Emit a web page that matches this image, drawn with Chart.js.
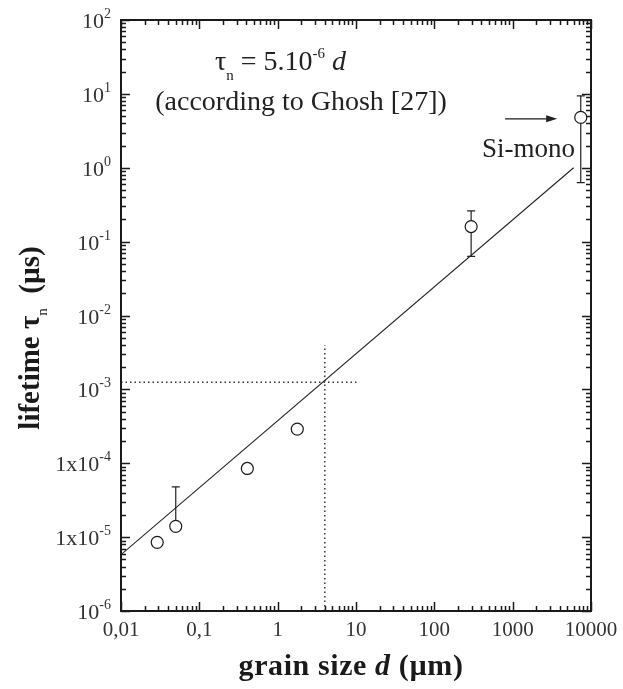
<!DOCTYPE html>
<html>
<head>
<meta charset="utf-8">
<script src="https://cdn.jsdelivr.net/npm/chart.js@4"></script>
<style>
  html, body { margin: 0; padding: 0; background: #fff; }
  #wrap { width: 623px; height: 689px; position: relative; }
</style>
</head>
<body>
<div id="wrap"><canvas id="c"></canvas></div>
<script>
// Measured minority-carrier lifetime versus grain size
const grainSize = [0.029, 0.05, 0.41, 1.78, 295, 7400];
const lifetime  = [8.5e-6, 1.4e-5, 8.5e-5, 2.9e-4, 0.16, 4.8];
const errHigh   = [null, 4.8e-5, null, null, 0.26, 9.4];
const errLow    = [null, null, null, null, 0.063, 0.63];

// Fitted trend line (end points)
const fitX = [0.01, 6000];
const fitY = [5.8e-6, 1.0];

// Dotted read-off guides
const guideHX = [0.01, 11];
const guideHY = [1.25e-3, 1.25e-3];
const guideVX = [4, 4];
const guideVY = [1e-6, 4e-3];

// Axis ticks
const xTickValues = [0.01, 0.1, 1, 10, 100, 1000, 10000];
const xTickLabels = ['0,01', '0,1', '1', '10', '100', '1000', '10000'];
const yTickValues = [1e-6, 1e-5, 1e-4, 1e-3, 1e-2, 1e-1, 1, 10, 100];
const yTickBases  = ['10', '1x10', '1x10', '10', '10', '10', '10', '10', '10'];
const yTickExps   = ['-6', '-5', '-4', '-3', '-2', '-1', '0', '1', '2'];

// "Si-mono" arrow, in data units
const arrowX = [800, 3700];
const arrowY = [4.6, 4.6];

const SERIF = '"Liberation Serif", "DejaVu Serif", serif';

function toXY(xs, ys) { return xs.map((x, i) => ({ x: x, y: ys[i] })); }

// Draws a run of text pieces, each with its own font, spacing and vertical offset
function drawRich(ctx, parts, x, y, align) {
  let total = 0;
  parts.forEach(p => {
    ctx.font = p.font;
    ctx.letterSpacing = (p.ls || 0) + 'px';
    total += ctx.measureText(p.t).width;
  });
  let cx = x;
  if (align === 'center') cx = x - total / 2;
  else if (align === 'right') cx = x - total;
  ctx.textAlign = 'left';
  ctx.textBaseline = 'alphabetic';
  parts.forEach(p => {
    ctx.font = p.font;
    ctx.letterSpacing = (p.ls || 0) + 'px';
    ctx.fillText(p.t, cx, y + (p.dy || 0));
    cx += ctx.measureText(p.t).width;
  });
  ctx.letterSpacing = '0px';
}

const framePlugin = {
  id: 'frame',
  beforeDatasetsDraw(chart) {
    const ctx = chart.ctx;
    const xs = chart.scales.x, ys = chart.scales.y;
    // error bars with caps
    ctx.save();
    ctx.strokeStyle = '#222';
    ctx.lineWidth = 1.2;
    grainSize.forEach((g, i) => {
      const px = xs.getPixelForValue(g);
      const pc = ys.getPixelForValue(lifetime[i]);
      [errHigh[i], errLow[i]].forEach(v => {
        if (v === null) return;
        const py = ys.getPixelForValue(v);
        ctx.beginPath();
        ctx.moveTo(px, pc); ctx.lineTo(px, py);
        ctx.moveTo(px - 4, py); ctx.lineTo(px + 4, py);
        ctx.stroke();
      });
    });
    ctx.restore();
  },
  afterDraw(chart) {
    const ctx = chart.ctx;
    const a = chart.chartArea;
    const xs = chart.scales.x, ys = chart.scales.y;
    ctx.save();
    ctx.fillStyle = '#1a1a1a';
    ctx.strokeStyle = '#1a1a1a';

    // inward ticks on all four sides
    ctx.lineWidth = 1.5;
    ctx.beginPath();
    for (let d = -2; d <= 4; d++) {
      for (let m = 1; m <= 9; m++) {
        const v = m * Math.pow(10, d);
        if (v > 10000 * 1.0001) continue;
        const px = Math.round(xs.getPixelForValue(v)) + 0.5;
        const len = m === 1 ? 9 : 5;
        ctx.moveTo(px, a.bottom); ctx.lineTo(px, a.bottom - len);
        ctx.moveTo(px, a.top); ctx.lineTo(px, a.top + len);
      }
    }
    for (let d = -6; d <= 2; d++) {
      for (let m = 1; m <= 9; m++) {
        const v = m * Math.pow(10, d);
        if (v > 100 * 1.0001) continue;
        const py = Math.round(ys.getPixelForValue(v)) + 0.5;
        const len = m === 1 ? 9 : 5;
        ctx.moveTo(a.left, py); ctx.lineTo(a.left + len, py);
        ctx.moveTo(a.right, py); ctx.lineTo(a.right - len, py);
      }
    }
    ctx.stroke();

    // plot frame
    ctx.lineWidth = 2;
    ctx.strokeRect(a.left, a.top, a.right - a.left, a.bottom - a.top);

    // x tick labels
    ctx.fillStyle = '#333';
    ctx.font = '21px ' + SERIF;
    ctx.textAlign = 'center';
    ctx.textBaseline = 'alphabetic';
    xTickValues.forEach((v, i) => {
      ctx.fillText(xTickLabels[i], xs.getPixelForValue(v), a.bottom + 25);
    });

    // y tick labels with superscript exponents
    yTickValues.forEach((v, i) => {
      const py = ys.getPixelForValue(v);
      drawRich(ctx, [
        { t: yTickBases[i], font: '22px ' + SERIF },
        { t: yTickExps[i], font: '14px ' + SERIF, dy: -10 }
      ], a.left - 10, py + 8, 'right');
    });

    // axis titles
    ctx.fillStyle = '#1a1a1a';
    drawRich(ctx, [
      { t: 'grain size ', font: 'bold 30px ' + SERIF, ls: 0.6 },
      { t: 'd', font: 'italic bold 30px ' + SERIF, ls: 0.6 },
      { t: ' (\u00b5m)', font: 'bold 30px ' + SERIF, ls: 0.6 }
    ], 351, 675, 'center');

    ctx.save();
    ctx.translate(39, 338);
    ctx.rotate(-Math.PI / 2);
    drawRich(ctx, [
      { t: 'lifetime ', font: 'bold 29px ' + SERIF },
      { t: '\u03c4', font: 'bold 29px ' + SERIF },
      { t: 'n', font: '15px ' + SERIF, dy: 8 },
      { t: '  (\u00b5s)', font: 'bold 29px ' + SERIF }
    ], 0, 0, 'center');
    ctx.restore();

    // relation and its source
    ctx.fillStyle = '#222';
    drawRich(ctx, [
      { t: '\u03c4', font: '28px ' + SERIF },
      { t: 'n', font: '15px ' + SERIF, dy: 10 },
      { t: ' = 5.10', font: '28px ' + SERIF },
      { t: '-6', font: '15px ' + SERIF, dy: -12 },
      { t: ' ', font: '28px ' + SERIF },
      { t: 'd', font: 'italic 28px ' + SERIF }
    ], 215, 70, 'left');
    drawRich(ctx, [
      { t: '(according to Ghosh [27])', font: '28px ' + SERIF }
    ], 301, 110, 'center');

    // Si-mono label and arrow
    drawRich(ctx, [{ t: 'Si-mono', font: '27px ' + SERIF }], 575, 157, 'right');
    const ax0 = xs.getPixelForValue(arrowX[0]), ax1 = xs.getPixelForValue(arrowX[1]);
    const ay0 = ys.getPixelForValue(arrowY[0]), ay1 = ys.getPixelForValue(arrowY[1]);
    ctx.lineWidth = 1.2;
    ctx.beginPath();
    ctx.moveTo(ax0, ay0); ctx.lineTo(ax1 - 8, ay1);
    ctx.stroke();
    ctx.beginPath();
    ctx.moveTo(ax1, ay1);
    ctx.lineTo(ax1 - 11, ay1 - 3.5);
    ctx.lineTo(ax1 - 11, ay1 + 3.5);
    ctx.closePath();
    ctx.fill();

    ctx.restore();
  }
};

new Chart(document.getElementById('c'), {
  type: 'scatter',
  data: {
    datasets: [
      {
        label: 'measured',
        data: toXY(grainSize, lifetime),
        pointStyle: 'circle',
        pointRadius: 6,
        pointHoverRadius: 6,
        pointBackgroundColor: '#fff',
        pointBorderColor: '#1a1a1a',
        pointBorderWidth: 1.2,
        showLine: false
      },
      {
        label: 'fit',
        type: 'line',
        data: toXY(fitX, fitY),
        borderColor: '#222',
        borderWidth: 1.1,
        pointRadius: 0,
        fill: false
      },
      {
        label: 'guide-h',
        type: 'line',
        data: toXY(guideHX, guideHY),
        borderColor: '#333',
        borderWidth: 1.5,
        borderDash: [1.5, 3],
        pointRadius: 0,
        fill: false
      },
      {
        label: 'guide-v',
        type: 'line',
        data: toXY(guideVX, guideVY),
        borderColor: '#333',
        borderWidth: 1.5,
        borderDash: [1.5, 3],
        pointRadius: 0,
        fill: false
      }
    ]
  },
  options: {
    responsive: true,
    maintainAspectRatio: false,
    animation: false,
    events: [],
    layout: { padding: { left: 121, right: 32, top: 20, bottom: 78 } },
    plugins: { legend: { display: false }, tooltip: { enabled: false } },
    scales: {
      x: { type: 'logarithmic', min: 0.01, max: 10000, display: false },
      y: { type: 'logarithmic', min: 1e-6, max: 100, display: false }
    }
  },
  plugins: [framePlugin]
});
</script>
</body>
</html>
